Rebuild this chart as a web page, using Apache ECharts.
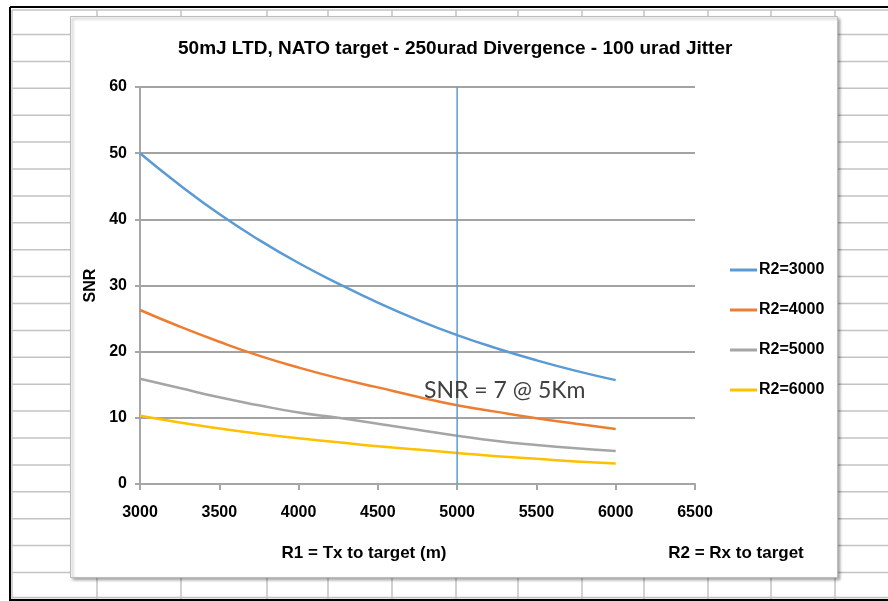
<!DOCTYPE html>
<html>
<head>
<meta charset="utf-8">
<script src="https://cdn.jsdelivr.net/npm/echarts@6/dist/echarts.min.js"></script>
<style>
  html, body { margin: 0; padding: 0; background: #ffffff; }
  #chart { width: 888px; height: 601px; }
</style>
</head>
<body>
<div id="chart"></div>
<script>
// R1 (transmitter to target) ranges, metres
const r1Values = [3000, 3250, 3500, 3750, 4000, 4250, 4500, 4750, 5000, 5250, 5500, 5750, 6000];

// SNR for each receiver-to-target distance R2
const snrR2_3000 = [50.0, 45.2, 40.8, 36.9, 33.4, 30.3, 27.4, 24.8, 22.5, 20.5, 18.7, 17.1, 15.7];
const snrR2_4000 = [26.3, 23.8, 21.5, 19.4, 17.6, 16.0, 14.6, 13.2, 11.9, 10.9, 9.95, 9.1, 8.3];
const snrR2_5000 = [15.9, 14.5, 13.1, 11.9, 10.8, 10.0, 9.1, 8.2, 7.3, 6.5, 5.9, 5.4, 5.0];
const snrR2_6000 = [10.3, 9.3, 8.4, 7.6, 6.9, 6.3, 5.7, 5.2, 4.7, 4.2, 3.8, 3.4, 3.1];

const seriesNames = ['R2=3000', 'R2=4000', 'R2=5000', 'R2=6000'];
const seriesColors = ['#5b9bd5', '#ed7d31', '#a5a5a5', '#ffc000'];

// Reference range marker at R1 = 5 km
const markerR1 = 5000;
const markerSpan = [0, 60];

const titleText = '50mJ LTD, NATO target - 250urad Divergence - 100 urad Jitter';
const xAxisTitle = 'R1 = Tx to target (m)';
const r2Note = 'R2 = Rx to target';
const yAxisTitle = 'SNR';
const noteText = 'SNR = 7 @ 5Km';

const narrow = '"Liberation Sans Narrow", "Arial Narrow", "Liberation Sans", Arial, sans-serif';

function pairs(xs, ys) { return xs.map((x, i) => [x, ys[i]]); }

// Worksheet cell grid behind the chart
const sheet = [];
const lineStyle = { stroke: '#c3c3c3', lineWidth: 1.5 };
for (let y = 34.5; y < 601; y += 26.9) {
  sheet.push({ type: 'line', silent: true, shape: { x1: 12, y1: y, x2: 888, y2: y }, style: lineStyle });
}
[12, 97, 181, 267, 328, 392, 456, 518, 582, 644, 708, 771, 835].forEach(x => {
  sheet.push({ type: 'line', silent: true, shape: { x1: x, y1: 10, x2: x, y2: 601 }, style: lineStyle });
});
sheet.push({ type: 'line', silent: true, shape: { x1: 12, y1: 10, x2: 888, y2: 10 }, style: lineStyle });
sheet.push({ type: 'line', silent: true, shape: { x1: 12, y1: 597.5, x2: 888, y2: 597.5 }, style: lineStyle });
// sheet frame
sheet.push({ type: 'line', silent: true, shape: { x1: 10, y1: 7, x2: 888, y2: 7 }, style: { stroke: '#000', lineWidth: 2 } });
sheet.push({ type: 'line', silent: true, shape: { x1: 10, y1: 7, x2: 10, y2: 601 }, style: { stroke: '#000', lineWidth: 2 } });
sheet.push({ type: 'line', silent: true, shape: { x1: 10, y1: 600, x2: 888, y2: 600 }, style: { stroke: '#000', lineWidth: 2 } });

// chart area panel with a soft drop shadow
sheet.push({
  type: 'rect', silent: true,
  shape: { x: 70.5, y: 16.5, width: 767, height: 561 },
  style: { fill: '#ffffff', stroke: '#bdbdbd', lineWidth: 1, shadowBlur: 3, shadowOffsetX: 2, shadowOffsetY: 2, shadowColor: 'rgba(0,0,0,0.35)' }
});

const texts = [
  { type: 'text', x: 364, y: 553, style: { text: xAxisTitle, font: 'bold 17px ' + narrow, fill: '#000', align: 'center', verticalAlign: 'middle' } },
  { type: 'text', x: 736, y: 553, style: { text: r2Note, font: 'bold 17px ' + narrow, fill: '#000', align: 'center', verticalAlign: 'middle' } },
  { type: 'text', x: 424, y: 391, z: 10, style: { text: noteText, font: '23px Lato, "Open Sans", sans-serif', fill: '#404040', align: 'left', verticalAlign: 'middle' } }
];

const lineSeries = [snrR2_3000, snrR2_4000, snrR2_5000, snrR2_6000].map((vals, i) => ({
  name: seriesNames[i],
  type: 'line',
  smooth: true,
  showSymbol: false,
  symbol: 'none',
  data: pairs(r1Values, vals),
  lineStyle: { color: seriesColors[i], width: 2.5 },
  itemStyle: { color: seriesColors[i] },
  z: 3
}));

lineSeries.push({
  name: 'marker',
  type: 'line',
  showSymbol: false,
  symbol: 'none',
  data: markerSpan.map(v => [markerR1, v]),
  lineStyle: { color: '#5b9bd5', width: 1.5 },
  z: 4
});

const plainNumber = v => String(v);

const chart = echarts.init(document.getElementById('chart'), null, { renderer: 'canvas' });
chart.setOption({
  animation: false,
  backgroundColor: '#ffffff',
  title: {
    text: titleText,
    left: 178,
    top: 39,
    padding: 0,
    textStyle: { fontFamily: narrow, fontWeight: 'bold', fontSize: 19, color: '#000' }
  },
  graphic: { elements: sheet.concat(texts) },
  legend: {
    data: seriesNames,
    orient: 'vertical',
    left: 730,
    top: 262,
    padding: 0,
    itemWidth: 27,
    itemHeight: 3,
    itemGap: 24,
    icon: 'rect',
    textStyle: { fontFamily: narrow, fontWeight: 'bold', fontSize: 16, color: '#000', padding: [0, 0, 0, -3] }
  },
  grid: { left: 140, right: 193, top: 87, bottom: 117, containLabel: false },
  xAxis: {
    type: 'value',
    min: 3000,
    max: 6500,
    interval: 500,
    axisLine: { show: true, lineStyle: { color: '#a6a6a6', width: 2 } },
    axisTick: { show: true, length: 6, lineStyle: { color: '#a6a6a6', width: 2 } },
    splitLine: { show: false },
    axisLabel: { margin: 21, formatter: plainNumber, color: '#000', fontFamily: narrow, fontWeight: 'bold', fontSize: 16 }
  },
  yAxis: {
    type: 'value',
    min: 0,
    max: 60,
    interval: 10,
    name: yAxisTitle,
    nameLocation: 'middle',
    nameRotate: 90,
    nameGap: 29,
    nameTextStyle: { fontFamily: narrow, fontWeight: 'bold', fontSize: 16, color: '#000' },
    axisLine: { show: true, lineStyle: { color: '#a6a6a6', width: 2 } },
    axisTick: { show: true, length: 5, lineStyle: { color: '#a6a6a6', width: 2 } },
    splitLine: { show: true, lineStyle: { color: '#a3a3a3', width: 2 } },
    axisLabel: { margin: 13, formatter: plainNumber, color: '#000', fontFamily: narrow, fontWeight: 'bold', fontSize: 16 }
  },
  series: lineSeries
});
</script>
</body>
</html>
